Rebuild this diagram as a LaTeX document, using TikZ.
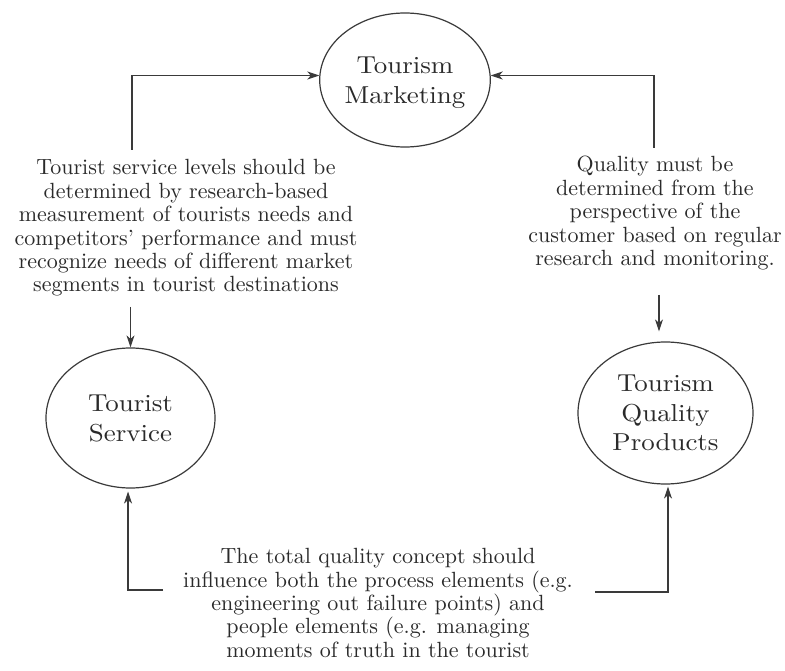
\documentclass[tikz,border=0pt]{standalone}
\usepackage{fontspec}
\setmainfont{lmroman10-regular.otf}
\newfontfamily\ovalfont{lmroman10-regular.otf}[FakeStretch=1.1]
\usetikzlibrary{shapes.geometric,arrows.meta}
\definecolor{ink}{HTML}{2A2A2A}
\definecolor{lc}{HTML}{3A3A3A}
\begin{document}
\begin{tikzpicture}[x=1pt,y=-1pt]
\tikzset{
  oval/.style={ellipse, draw=lc, line width=1.2pt, inner sep=0pt, align=center,
    text=ink, font=\ovalfont\fontsize{24.5}{29.5}\selectfont, text depth=0pt},
  desc/.style={align=center, inner sep=0pt, text=ink,
    font=\fontsize{22}{23.4}\selectfont, anchor=north},
  arr/.style={draw=lc, line width=1.1pt, -{Stealth[length=12pt,width=8pt,inset=3.5pt]}},
}
\fill[white] (0,0) rectangle (785,671);
\useasboundingbox (0,0) rectangle (785,671);

% ellipses
\node[oval, minimum width=166pt, minimum height=134pt] (TM) at (405,80) {Tourism\\Marketing};
\node[oval, minimum width=169pt, minimum height=140pt] (TS) at (130.5,418) {Tourist\\Service};
\node[oval, minimum width=175pt, minimum height=142pt] (TQ) at (665.5,413) {Tourism\\Quality\\Products};

% descriptions
\node[desc] (lt) at (186,159.4) {Tourist service levels should be\\
determined by research-based\\
measurement of tourists needs and\\
competitors’ performance and must\\
recognize needs of different market\\
segments in tourist destinations};
\node[desc] (rt) at (655,156.1) {Quality must be\\
determined from the\\
perspective of the\\
customer based on regular\\
research and monitoring.};
\node[desc] (bt) at (378,548.3) {The total quality concept should\\
influence both the process elements (e.g.\\
engineering out failure points) and\\
people elements (e.g. managing\\
moments of truth in the tourist};

% connector ends
\coordinate (l1) at (132,150);
\coordinate (r1) at (654,148);
\coordinate (l2) at (130.5,307);
\coordinate (r2) at (659,295);
\coordinate (b1) at (163,590);
\coordinate (b2) at (595,592);

% connectors
\draw[arr] (l1) |- (TM.177);
\draw[arr] (r1) |- (TM.3);
\draw[arr] (l2) -- (TS.north);
\draw[arr, shorten >=10pt] (r2) -- (r2 |- TQ.north);
\draw[arr, shorten >=3pt] (b1) -| (TS.268);
\draw[arr, shorten >=2pt] (b2) -| (TQ.272);
\end{tikzpicture}
\end{document}
